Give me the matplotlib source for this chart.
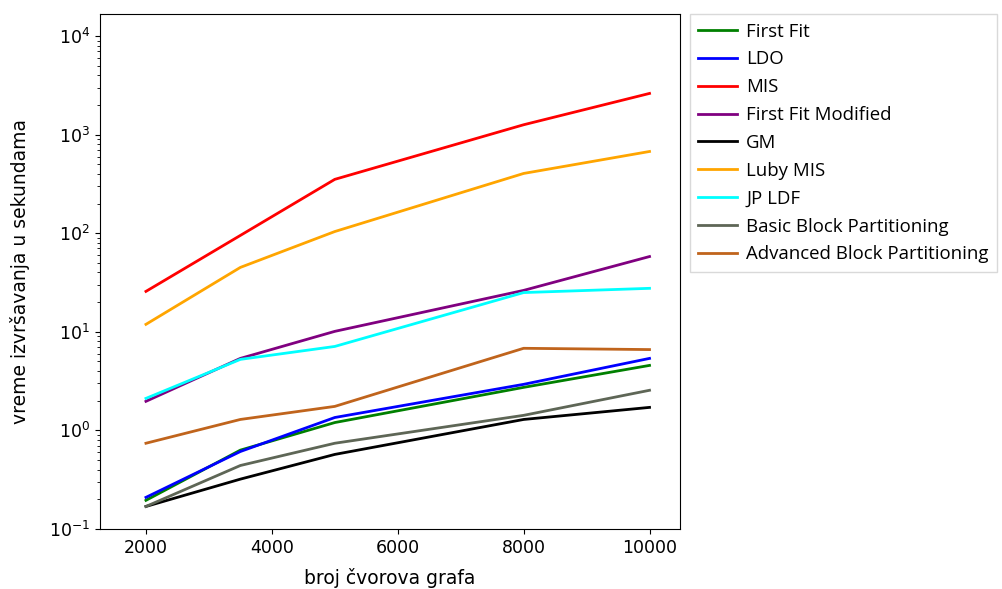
import matplotlib
matplotlib.use("Agg")
from matplotlib import pyplot as plt

n = [2000, 3500, 5000, 8000, 10000]

first_fit = [0.195, 0.63, 1.2, 2.73, 4.56]
ldo = [0.209, 0.61, 1.35, 2.93, 5.37]
mis = [25.7, 95, 352, 1260, 2620]
first_fit_mod = [1.97, 5.37, 10.1, 26.3, 58]
gm = [0.169, 0.32, 0.57, 1.29, 1.71]
luby_mis = [11.9, 45, 104, 404, 675]
jp_ldf = [2.11, 5.25, 7.1, 25, 27.6]
basic_block = [0.169, 0.44, 0.74, 1.42, 2.55]
advanced_block = [0.74, 1.29, 1.75, 6.8, 6.6]

serije = [
    ("First Fit", first_fit, "green"),
    ("LDO", ldo, "blue"),
    ("MIS", mis, "red"),
    ("First Fit Modified", first_fit_mod, "purple"),
    ("GM", gm, "black"),
    ("Luby MIS", luby_mis, "orange"),
    ("JP LDF", jp_ldf, "cyan"),
    ("Basic Block Partitioning", basic_block, "#5e6656"),
    ("Advanced Block Partitioning", advanced_block, "#c0641c"),
]

fig = plt.figure(figsize=(10.03, 5.89), dpi=100)
ax = fig.add_axes([0.0997, 0.102, 0.578, 0.874])

for ime, y, boja in serije:
    ax.plot(n, y, color=boja, lw=2, label=ime)

ax.set_yscale("log")
ax.set_ylim(0.1, 1.67e4)
ax.set_xlim(1270, 10480)
ax.set_xticks([2000, 4000, 6000, 8000, 10000])
ax.tick_params(labelsize=12.5)
ax.set_xlabel("broj čvorova grafa", fontsize=13.5, labelpad=8)
ax.set_ylabel("vreme izvršavanja u sekundama", fontsize=13.5, labelpad=14)

leg = ax.legend(loc="upper left", bbox_to_anchor=(1.017, 1.0), borderaxespad=0,
                prop={"family": "Open Sans", "size": 13.4}, labelspacing=0.53,
                handlelength=2.1, handletextpad=0.5, fancybox=False,
                borderpad=0.45, edgecolor="#d0d0d0")
leg.get_frame().set_linewidth(1.0)

fig.savefig("out.png", dpi=100)
